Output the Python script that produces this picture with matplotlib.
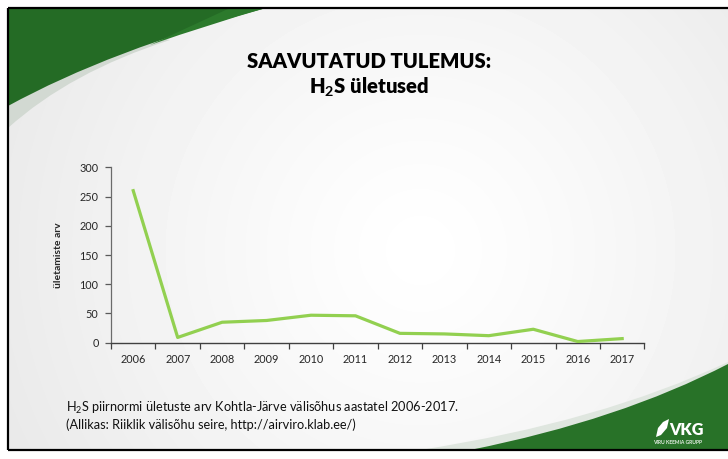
import numpy as np
import matplotlib
matplotlib.use("Agg")
import matplotlib.pyplot as plt
from matplotlib.path import Path
from matplotlib.patches import PathPatch, Polygon

plt.rcParams['font.family'] = ['Lato', 'DejaVu Sans']
plt.rcParams['mathtext.fontset'] = 'custom'
plt.rcParams['mathtext.rm'] = 'Lato'
plt.rcParams['mathtext.bf'] = 'Lato:bold'

# data: H2S limit exceedances per year
years = ['2006', '2007', '2008', '2009', '2010', '2011',
         '2012', '2013', '2014', '2015', '2016', '2017']
exceedances = [260, 9, 35, 38, 47, 46, 16, 15, 12, 23, 2, 7]

W, H = 728, 459
fig = plt.figure(figsize=(W / 100, H / 100), dpi=100)

# slide background in pixel coordinates
bg = fig.add_axes([0, 0, 1, 1])
bg.set_xlim(0, W)
bg.set_ylim(H, 0)
bg.axis('off')

yy, xx = np.mgrid[0:442, 0:720]
d = np.hypot(xx + 8 - 420, yy + 8 - 250) / 450
shade = 1 - 0.085 * np.clip(d, 0, 1) ** 1.2
bg.imshow(shade, cmap='gray', vmin=0, vmax=1, extent=[8, W, 450, 8],
          interpolation='bilinear', aspect='auto', zorder=0)


def bezier_patch(pts, codes, color, z):
    bg.add_patch(PathPatch(Path(pts, codes), facecolor=color, edgecolor='none', zorder=z))


C, C3, L3 = Path.MOVETO, Path.CURVE3, Path.LINETO
# grey swoosh under the top-left green
bezier_patch([(8, 128), (70, 72), (170, 40), (8, 8), (8, 128)],
             [C, C3, C3, L3, L3], '#d2d9d2', 1)
# top-left green swoosh
bezier_patch([(8, 106), (110, 50), (266, 8), (8, 8), (8, 106)],
             [C, C3, C3, L3, L3], '#246b25', 2)
bezier_patch([(150, 45), (210, 24), (266, 8), (230, 8), (150, 45)],
             [C, C3, C3, L3, L3], '#2c7a2c', 2)
# bottom-right green swoosh
bezier_patch([(420, 450), (600, 422), (728, 362), (728, 450), (420, 450)],
             [C, C3, C3, L3, L3], '#dfe6df', 1)
bezier_patch([(470, 450), (620, 420), (728, 364), (728, 450), (470, 450)],
             [C, C3, C3, L3, L3], '#287228', 2)

# frame
bg.plot([8, W], [8, 8], color='black', lw=1.6, zorder=5, solid_capstyle='butt')
bg.plot([8, 8], [8, 450], color='black', lw=1.6, zorder=5, solid_capstyle='butt')
bg.plot([8, W], [450, 450], color='black', lw=1.6, zorder=5, solid_capstyle='butt')

# title
bg.text(369, 61, 'SAAVUTATUD TULEMUS:', ha='center', va='center',
        fontsize=14.6, fontweight='heavy', color='black', zorder=6)
bg.text(369, 87, r'H$_\mathbf{2}$S ületused', ha='center', va='center',
        fontsize=14.6, fontweight='heavy', color='black', zorder=6)

# footnote
bg.text(66, 408, r'H$_\mathrm{2}$S piirnormi ületuste arv Kohtla-Järve välisõhus aastatel 2006-2017.',
        ha='left', va='center', fontsize=9.2, color='#111111', zorder=6)
bg.text(66, 425, '(Allikas: Riiklik välisõhu seire, http://airviro.klab.ee/)',
        ha='left', va='center', fontsize=9.2, color='#111111', zorder=6)

# VKG logo
leaf = Polygon([(656, 437), (658, 428), (663, 422), (669, 419), (667, 428), (661, 435)],
               closed=True, facecolor='white', edgecolor='none', zorder=6)
bg.add_patch(leaf)
bg.text(669, 430, 'VKG', ha='left', va='center', fontsize=11.5, fontweight='heavy',
        color='white', zorder=6)
bg.text(678, 442, 'VIRU KEEMIA GRUPP', ha='center', va='center', fontsize=3.6,
        fontweight='bold', color='#e6efe6', zorder=6)

# chart
ax = fig.add_axes([111 / W, 1 - 342.7 / H, (644.4 - 111) / W, (342.7 - 167.3) / H])
ax.patch.set_alpha(0)
x = np.arange(len(years))
ax.plot(x, exceedances, color='#92d050', lw=2.3, solid_joinstyle='round', zorder=3)

ax.set_xlim(-0.5, len(years) - 0.5)
ax.set_ylim(0, 300)
ax.set_yticks(range(0, 301, 50))
ax.set_xticks(x)
ax.set_xticklabels(years)
ax.set_xticks(np.arange(-0.5, len(years)), minor=True)
ax.tick_params(axis='x', which='major', length=0, pad=8, labelsize=7.8, labelcolor='#262626')
ax.tick_params(axis='x', which='minor', length=4, width=0.9, color='#404040')
ax.tick_params(axis='y', length=4, width=0.9, color='#595959', pad=5,
               labelsize=7.8, labelcolor='#262626')
for s in ('top', 'right'):
    ax.spines[s].set_visible(False)
ax.spines['left'].set_color('#6b6b6b')
ax.spines['bottom'].set_color('#404040')
ax.spines['left'].set_linewidth(0.9)
ax.spines['bottom'].set_linewidth(1.0)
ax.set_ylabel('ületamiste arv', fontsize=7.5, fontweight='bold', color='#262626', labelpad=12)

fig.savefig('out.png', dpi=100)
